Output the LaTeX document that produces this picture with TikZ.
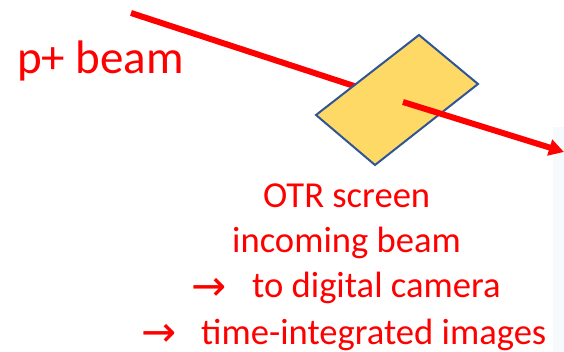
\documentclass[tikz,border=0pt]{standalone}
\usepackage{fontspec}
\setmainfont{Carlito}
\newfontfamily\symfont{DejaVu Sans}
\usetikzlibrary{arrows.meta}
\definecolor{screenfill}{HTML}{FFD966}
\definecolor{screenedge}{HTML}{2F5597}
\definecolor{beamred}{HTML}{FF0000}
\definecolor{panelblue}{HTML}{F7FAFD}
\tikzset{
  beam/.style={draw=beamred, line width=6pt},
  lbl/.style={text=beamred, inner sep=0pt, anchor=base west},
  biglbl/.style={lbl, font=\fontsize{47}{56}\selectfont},
  smalllbl/.style={lbl, font=\fontsize{36.6}{44}\selectfont},
  arrowlbl/.style={lbl, font=\symfont\fontsize{42}{48}\selectfont},
  screen/.style={fill=screenfill, draw=screenedge, line width=2pt, line join=miter}
}
\begin{document}
\begin{tikzpicture}[x=1pt,y=-1pt]
\useasboundingbox (0,0) rectangle (564,352);
\fill[panelblue] (553,127) rectangle (564,352);
% coordinates
\coordinate (bstart) at (131,13);
\coordinate (bmid) at (403,102);
\coordinate (bend) at (564,152);
\coordinate (sTop) at (419,35);
\coordinate (sRight) at (478,84);
\coordinate (sBottom) at (375,165);
\coordinate (sLeft) at (316,115);
% incoming beam (behind screen)
\draw[beam] (bstart) -- (bmid);
% screen
\draw[screen] (sTop) -- (sRight) -- (sBottom) -- (sLeft) -- cycle;
% outgoing beam
\draw[beam, -{Triangle[length=15pt,width=16pt]}] (bmid) -- (bend);
% labels
\node[biglbl] (pbeam) at (17,74) {p+ beam};
\node[smalllbl] (l1) at (263,208) {OTR screen};
\node[smalllbl] (l2) at (232,253) {incoming beam};
\node[arrowlbl] (a3) at (191,300) {\smash{→}};
\node[smalllbl] (l3) at (252,298) {to digital camera};
\node[arrowlbl] (a4) at (141,346) {\smash{→}};
\node[smalllbl] (l4) at (201,344) {time-integrated images};
\end{tikzpicture}
\end{document}
